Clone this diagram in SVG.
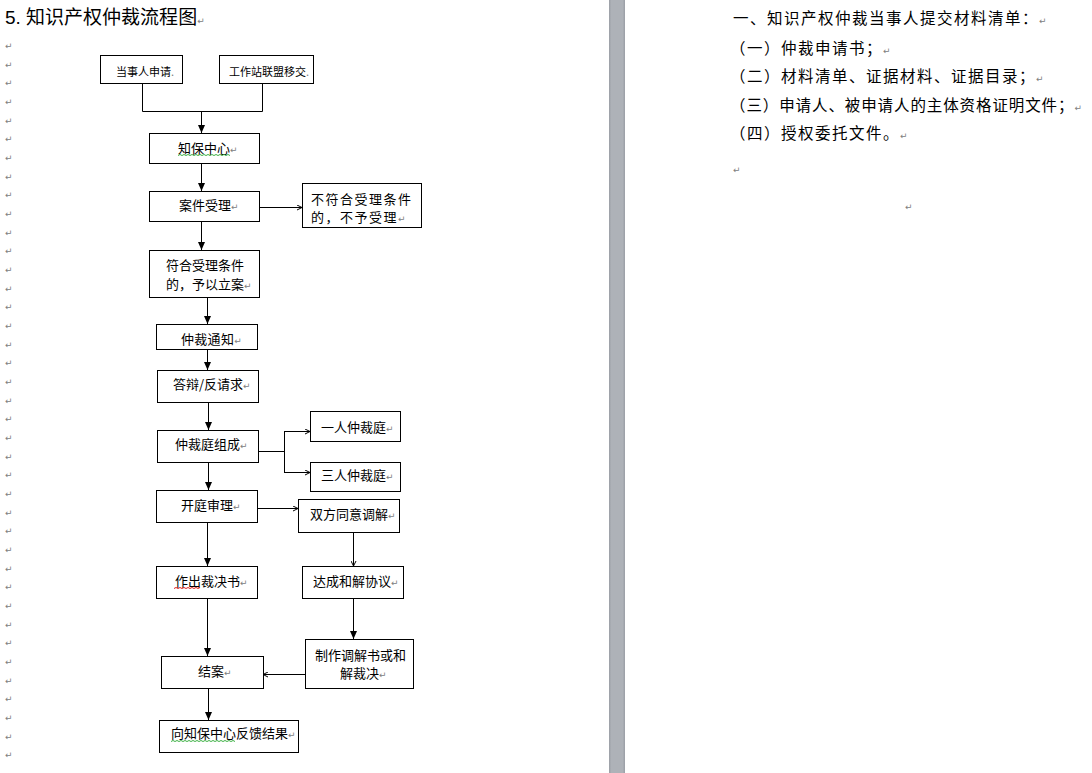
<svg xmlns="http://www.w3.org/2000/svg" width="1092" height="773" viewBox="0 0 1092 773">
<defs>
<style>
.box{fill:#fff;stroke:#000;stroke-width:1}
.t{font-family:"Noto Sans CJK SC","Noto Sans",sans-serif;font-size:13px;fill:#000}
.ts{font-family:"Noto Sans CJK SC","Noto Sans",sans-serif;font-size:11px;fill:#000}
.r{font-family:"Noto Sans CJK SC","Noto Sans",sans-serif;font-size:15.5px;letter-spacing:1.5px;fill:#000}
.pm{font-family:"DejaVu Sans",sans-serif;font-size:9px;fill:#808080;letter-spacing:0}
.ln{fill:none;stroke:#000;stroke-width:1}
.fa{marker-end:url(#fa)}
.sa{marker-end:url(#sa)}
.wg{fill:none;stroke:#3cb043;stroke-width:1}
.wr{fill:none;stroke:#e02020;stroke-width:1}
</style>
<marker id="fa" markerUnits="userSpaceOnUse" markerWidth="8" markerHeight="8" refX="8" refY="4" orient="auto">
<path d="M0,0.5 L8,4 L0,7.5 z" fill="#000"/>
</marker>
<marker id="sa" markerUnits="userSpaceOnUse" markerWidth="6" markerHeight="6" refX="5" refY="3" orient="auto">
<path d="M0,0.5 L5,3 L0,5.5" fill="none" stroke="#000" stroke-width="1"/>
</marker>
<linearGradient id="bar" x1="0" x2="1" y1="0" y2="0">
<stop offset="0" stop-color="#9a9ea5"/>
<stop offset="0.15" stop-color="#aeb2b8"/>
<stop offset="0.85" stop-color="#aeb2b8"/>
<stop offset="1" stop-color="#9a9ea5"/>
</linearGradient>
</defs>
<rect x="0" y="0" width="1092" height="773" fill="#fff"/>
<rect x="609" y="0" width="16" height="773" fill="url(#bar)"/>

<text x="5" y="24" style="font-family:'Liberation Sans','Noto Sans CJK SC',sans-serif;font-size:19px">5. 知识产权仲裁流程图<tspan class="pm" font-size="10">↵</tspan></text>

<g id="margin-marks" class="pm">
<text x="5" y="49">↵</text><text x="5" y="67.6">↵</text><text x="5" y="86.3">↵</text><text x="5" y="105">↵</text><text x="5" y="123.6">↵</text><text x="5" y="142.3">↵</text><text x="5" y="161">↵</text><text x="5" y="179.6">↵</text><text x="5" y="198.3">↵</text><text x="5" y="217">↵</text><text x="5" y="235.6">↵</text><text x="5" y="254.3">↵</text><text x="5" y="273">↵</text><text x="5" y="291.6">↵</text><text x="5" y="310.3">↵</text><text x="5" y="329">↵</text><text x="5" y="347.6">↵</text><text x="5" y="366.3">↵</text><text x="5" y="385">↵</text><text x="5" y="403.6">↵</text><text x="5" y="422.3">↵</text><text x="5" y="441">↵</text><text x="5" y="459.6">↵</text><text x="5" y="478.3">↵</text><text x="5" y="497">↵</text><text x="5" y="515.6">↵</text><text x="5" y="534.3">↵</text><text x="5" y="553">↵</text><text x="5" y="571.6">↵</text><text x="5" y="590.3">↵</text><text x="5" y="609">↵</text><text x="5" y="627.6">↵</text><text x="5" y="646.3">↵</text><text x="5" y="665">↵</text><text x="5" y="683.6">↵</text><text x="5" y="702.3">↵</text><text x="5" y="721">↵</text><text x="5" y="739.6">↵</text><text x="5" y="758.3">↵</text>
</g>

<g id="connectors">
<polyline class="ln" points="142.5,83 142.5,111.5 262.5,111.5 262.5,83"/>
<line class="ln fa" x1="201.5" y1="111.5" x2="201.5" y2="133"/>
<line class="ln fa" x1="201.5" y1="163" x2="201.5" y2="191"/>
<line class="ln sa" x1="259" y1="207.5" x2="302" y2="207.5"/>
<line class="ln fa" x1="201.5" y1="222" x2="201.5" y2="250"/>
<line class="ln fa" x1="207.5" y1="297" x2="207.5" y2="324"/>
<line class="ln fa" x1="207.5" y1="349" x2="207.5" y2="370"/>
<line class="ln fa" x1="208.5" y1="402" x2="208.5" y2="430"/>
<line class="ln" x1="258" y1="451.5" x2="284.5" y2="451.5"/>
<line class="ln" x1="284.5" y1="431" x2="284.5" y2="473"/>
<line class="ln sa" x1="284.5" y1="431.5" x2="310" y2="431.5"/>
<line class="ln sa" x1="284.5" y1="472.5" x2="310" y2="472.5"/>
<line class="ln fa" x1="208.5" y1="462" x2="208.5" y2="490"/>
<line class="ln sa" x1="257" y1="508.5" x2="298" y2="508.5"/>
<line class="ln sa" x1="353.5" y1="532" x2="353.5" y2="566"/>
<line class="ln fa" x1="207.5" y1="522" x2="207.5" y2="566"/>
<line class="ln fa" x1="353.5" y1="598" x2="353.5" y2="639"/>
<line class="ln fa" x1="207.5" y1="598" x2="207.5" y2="656"/>
<line class="ln sa" x1="305" y1="674.5" x2="263" y2="674.5"/>
<line class="ln fa" x1="208.5" y1="688" x2="208.5" y2="720"/>
</g>

<g id="n-dangshiren">
<rect class="box" x="100.5" y="55.5" width="82" height="28"/>
<text class="ts" x="116" y="76">当事人申请<tspan fill="#808080">.</tspan></text>
</g>
<g id="n-gongzuozhan">
<rect class="box" x="219.5" y="55.5" width="94" height="28"/>
<text class="ts" x="229" y="76">工作站联盟移交<tspan fill="#808080">.</tspan></text>
</g>
<g id="n-zhibao">
<rect class="box" x="149.5" y="133.5" width="110" height="30"/>
<text class="t" x="178" y="152.5">知保中心<tspan class="pm">↵</tspan></text>
<path class="wg" d="M178,155.5 l2,-1 2,1 2,-1 2,1 2,-1 2,1 2,-1 2,1 2,-1 2,1 2,-1 2,1 2,-1 2,1 2,-1 2,1 2,-1 2,1 2,-1 2,1 2,-1 2,1 2,-1 2,1 2,-1 2,1"/>
</g>
<g id="n-anjian">
<rect class="box" x="149.5" y="191.5" width="110" height="30"/>
<text class="t" x="179" y="210">案件受理<tspan class="pm">↵</tspan></text>
</g>
<g id="n-bufuhe">
<rect class="box" x="302.5" y="183.5" width="119" height="44"/>
<text class="t" x="311" y="203.5" style="letter-spacing:1.5px">不符合受理条件</text>
<text class="t" x="311" y="222" style="letter-spacing:1.5px">的，不予受理<tspan class="pm">↵</tspan></text>
</g>
<g id="n-fuhe">
<rect class="box" x="149.5" y="250.5" width="110" height="47"/>
<text class="t" x="166" y="270">符合受理条件</text>
<text class="t" x="166" y="289">的，予以立案<tspan class="pm">↵</tspan></text>
</g>
<g id="n-tongzhi">
<rect class="box" x="156.5" y="324.5" width="101" height="25"/>
<text class="t" x="181" y="343.5" style="letter-spacing:0.3px">仲裁通知<tspan class="pm">↵</tspan></text>
</g>
<g id="n-dabian">
<rect class="box" x="157.5" y="370.5" width="101" height="32"/>
<text class="t" x="173" y="389">答辩/反请求<tspan class="pm">↵</tspan></text>
</g>
<g id="n-zucheng">
<rect class="box" x="157.5" y="430.5" width="101" height="32"/>
<text class="t" x="175" y="448.5">仲裁庭组成<tspan class="pm">↵</tspan></text>
</g>
<g id="n-yiren">
<rect class="box" x="310.5" y="411.5" width="90" height="30"/>
<text class="t" x="321" y="432">一人仲裁庭<tspan class="pm">↵</tspan></text>
</g>
<g id="n-sanren">
<rect class="box" x="310.5" y="462.5" width="90" height="29"/>
<text class="t" x="321" y="480">三人仲裁庭<tspan class="pm">↵</tspan></text>
</g>
<g id="n-kaiting">
<rect class="box" x="156.5" y="490.5" width="101" height="32"/>
<text class="t" x="181" y="510">开庭审理<tspan class="pm">↵</tspan></text>
</g>
<g id="n-tiaojie">
<rect class="box" x="298.5" y="499.5" width="101" height="33"/>
<text class="t" x="310" y="518.5">双方同意调解<tspan class="pm">↵</tspan></text>
</g>
<g id="n-caijue">
<rect class="box" x="156.5" y="566.5" width="101" height="32"/>
<text class="t" x="175" y="585.5">作出裁决书<tspan class="pm">↵</tspan></text>
<path class="wr" d="M174,588.5 l2,-1 2,1 2,-1 2,1 2,-1 2,1 2,-1 2,1 2,-1 2,1 2,-1 2,1 2,-1"/>
</g>
<g id="n-hejie">
<rect class="box" x="302.5" y="566.5" width="101" height="32"/>
<text class="t" x="313" y="585.5">达成和解协议<tspan class="pm">↵</tspan></text>
</g>
<g id="n-zhizuo">
<rect class="box" x="305.5" y="639.5" width="108" height="49"/>
<text class="t" x="315" y="659.5">制作调解书或和</text>
<text class="t" x="340" y="677.5">解裁决<tspan class="pm">↵</tspan></text>
</g>
<g id="n-jiean">
<rect class="box" x="161.5" y="656.5" width="102" height="32"/>
<text class="t" x="198" y="675.5">结案<tspan class="pm">↵</tspan></text>
</g>
<g id="n-fankui">
<rect class="box" x="159.5" y="720.5" width="139" height="32"/>
<text class="t" x="171" y="738">向知保中心反馈结果<tspan class="pm">↵</tspan></text>
<path class="wg" d="M171,741.5 l2,-1 2,1 2,-1 2,1 2,-1 2,1 2,-1 2,1 2,-1 2,1 2,-1 2,1 2,-1 2,1 2,-1 2,1 2,-1 2,1 2,-1 2,1 2,-1 2,1 2,-1 2,1 2,-1 2,1 2,-1 2,1 2,-1 2,1 2,-1 2,1"/>
</g>

<g id="materials">
<text class="r" x="733" y="23.5">一、知识产权仲裁当事人提交材料清单：<tspan class="pm">↵</tspan></text>
<text class="r" x="730" y="53.5">（一）仲裁申请书；<tspan class="pm">↵</tspan></text>
<text class="r" x="730" y="81.5">（二）材料清单、证据材料、证据目录；<tspan class="pm">↵</tspan></text>
<text class="r" x="730" y="110.5" style="letter-spacing:0.9px">（三）申请人、被申请人的主体资格证明文件；<tspan class="pm">↵</tspan></text>
<text class="r" x="730" y="138.5">（四）授权委托文件。<tspan class="pm">↵</tspan></text>
<text class="pm" x="733" y="173">↵</text>
<text class="pm" x="905" y="210">↵</text>
</g>
</svg>
